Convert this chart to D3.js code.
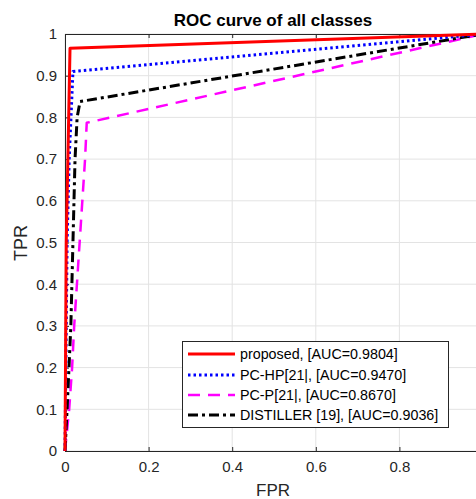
<!DOCTYPE html>
<html>
<head>
<meta charset="utf-8">
<script src="https://cdn.jsdelivr.net/npm/d3@7"></script>
<style>
  body { margin: 0; background: #fff; }
  text { font-family: "Liberation Sans", Arial, sans-serif; }
</style>
</head>
<body>
<svg id="chart" width="476" height="499"></svg>
<script>
// ROC points
var proposedFpr = [0, 0.003, 0.012, 1];
var proposedTpr = [0, 0.5, 0.966, 1];
var pchpFpr = [0, 0.005, 0.01, 0.019, 1];
var pchpTpr = [0, 0.5, 0.7, 0.91, 1];
var pcpFpr = [0, 0.01, 0.017, 0.022, 0.048, 0.052, 1];
var pcpTpr = [0, 0.1, 0.2, 0.3, 0.7, 0.787, 1];
var distFpr = [0, 0.005, 0.014, 0.024, 0.029, 0.036, 1];
var distTpr = [0, 0.1, 0.3, 0.7, 0.8, 0.838, 1];

var seriesNames = ['proposed, [AUC=0.9804]', 'PC-HP[21|, [AUC=0.9470]', 'PC-P[21|, [AUC=0.8670]', 'DISTILLER [19], [AUC=0.9036]'];
var xTicks = [0, 0.2, 0.4, 0.6, 0.8];
var yTicks = [0, 0.1, 0.2, 0.3, 0.4, 0.5, 0.6, 0.7, 0.8, 0.9, 1];

var styles = [
  {color: '#ff0000', width: 3, dash: null},
  {color: '#0000ff', width: 3, dash: '2.5,3'},
  {color: '#ff00ff', width: 2.5, dash: '12,8'},
  {color: '#000000', width: 3, dash: '10,4,3,4'}
];

var svg = d3.select('#chart');
var mLeft = 65, mRight = 483, mTop = 34, mBottom = 451;

var x = d3.scaleLinear().domain([0, 1]).range([mLeft, mRight]);
var y = d3.scaleLinear().domain([0, 1]).range([mBottom, mTop]);

var axisColor = '#262626';

// grid
var grid = svg.append('g');
grid.selectAll('.gx').data(xTicks).enter().append('line')
  .attr('x1', d => x(d)).attr('x2', d => x(d))
  .attr('y1', mTop).attr('y2', mBottom)
  .attr('stroke', '#e3e3e3').attr('stroke-width', 1);
grid.selectAll('.gy').data(yTicks).enter().append('line')
  .attr('x1', mLeft).attr('x2', mRight)
  .attr('y1', d => y(d)).attr('y2', d => y(d))
  .attr('stroke', '#e3e3e3').attr('stroke-width', 1);

// axes (ticks inside like matlab)
var xAxis = d3.axisBottom(x).tickValues(xTicks).tickSize(-4).tickPadding(10)
  .tickFormat(d => String(d));
var yAxis = d3.axisLeft(y).tickValues(yTicks).tickSize(-4).tickPadding(8)
  .tickFormat(d => String(d));

var gx = svg.append('g').attr('transform', 'translate(0,' + mBottom + ')').call(xAxis);
var gy = svg.append('g').attr('transform', 'translate(' + mLeft + ',0)').call(yAxis);
var gxTop = svg.append('g').attr('transform', 'translate(0,' + mTop + ')')
  .call(d3.axisTop(x).tickValues(xTicks).tickSize(-4).tickFormat(''));

[gx, gy, gxTop].forEach(function(g) {
  g.select('.domain').attr('stroke', axisColor).attr('stroke-width', 1);
  g.selectAll('.tick line').attr('stroke', axisColor);
  g.selectAll('.tick text').attr('fill', axisColor).style('font-size', '15px')
    .style('font-family', '"Liberation Sans", Arial, sans-serif');
});

// curves
var lineGen = d3.line().x(d => x(d[0])).y(d => y(d[1]));
var curves = [
  d3.zip(proposedFpr, proposedTpr),
  d3.zip(pchpFpr, pchpTpr),
  d3.zip(pcpFpr, pcpTpr),
  d3.zip(distFpr, distTpr)
];
var order = [2, 3, 1, 0];
order.forEach(function(i) {
  var s = styles[i];
  svg.append('path').datum(curves[i])
    .attr('d', lineGen)
    .attr('fill', 'none')
    .attr('stroke', s.color)
    .attr('stroke-width', s.width)
    .attr('stroke-linejoin', 'round')
    .attr('stroke-dasharray', s.dash);
});

// title and labels
svg.append('text').attr('x', 273).attr('y', 26).attr('text-anchor', 'middle')
  .style('font-size', '17px').style('font-weight', 'bold').attr('fill', '#000')
  .text('ROC curve of all classes');
svg.append('text').attr('x', 273).attr('y', 496).attr('text-anchor', 'middle')
  .style('font-size', '17px').attr('fill', axisColor).text('FPR');
svg.append('text').attr('transform', 'translate(27,' + 243 + ') rotate(-90)')
  .attr('text-anchor', 'middle').style('font-size', '18px').attr('fill', axisColor).text('TPR');

// legend
var lg = svg.append('g');
lg.append('rect').attr('x', 182.5).attr('y', 341.5).attr('width', 266).attr('height', 86)
  .attr('fill', '#fff').attr('stroke', axisColor).attr('stroke-width', 1);
var rowY = [354, 375, 395, 415];
seriesNames.forEach(function(name, i) {
  var s = styles[i];
  lg.append('line').attr('x1', 188).attr('x2', 235).attr('y1', rowY[i]).attr('y2', rowY[i])
    .attr('stroke', s.color).attr('stroke-width', s.width)
    .attr('stroke-dasharray', s.dash);
  lg.append('text').attr('x', 240).attr('y', rowY[i] + 5)
    .style('font-size', '14.3px').attr('fill', '#000').text(name);
});
</script>
</body>
</html>
